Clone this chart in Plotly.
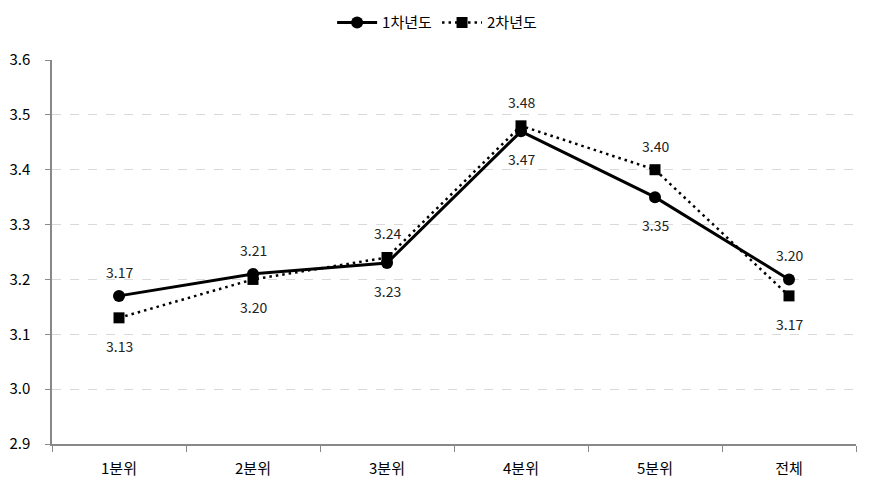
import plotly.graph_objects as go

categories = ["1분위", "2분위", "3분위", "4분위", "5분위", "전체"]
year1 = [3.17, 3.21, 3.23, 3.47, 3.35, 3.20]
year2 = [3.13, 3.20, 3.24, 3.48, 3.40, 3.17]
year1_above = [True, True, False, False, False, True]
year2_above = [False, False, True, True, True, False]
y_ticks = [2.9, 3.0, 3.1, 3.2, 3.3, 3.4, 3.5, 3.6]

FONT = "Noto Sans CJK KR, Malgun Gothic, sans-serif"

fig = go.Figure()
fig.add_trace(go.Scatter(
    x=categories, y=year1, name="1차년도", mode="lines+markers",
    line=dict(color="black", width=3),
    marker=dict(symbol="circle", size=12, color="black"),
))
fig.add_trace(go.Scatter(
    x=categories, y=year2, name="2차년도", mode="lines+markers",
    line=dict(color="black", width=2.5, dash="2.5px,4px"),
    marker=dict(symbol="square", size=11, color="black"),
))

annotations = []
for vals, above in ((year1, year1_above), (year2, year2_above)):
    for c, v, a in zip(categories, vals, above):
        annotations.append(dict(
            x=c, y=v, xref="x", yref="y", text=f"{v:.2f}", showarrow=False,
            yshift=24 if a else -28,
            font=dict(size=14, color="#222", family=FONT),
        ))

fig.update_layout(
    width=871, height=494,
    margin=dict(l=52, r=15, t=60, b=50, autoexpand=False),
    paper_bgcolor="white", plot_bgcolor="white",
    font=dict(family=FONT, size=15, color="black"),
    showlegend=True,
    annotations=annotations,
    legend=dict(orientation="h", x=0.479, xanchor="center", y=1.097, yanchor="middle",
                font=dict(size=15), itemwidth=40, traceorder="normal"),
    xaxis=dict(
        type="category", range=[-0.5, 5.5],
        showline=True, linecolor="#888", linewidth=1.5,
        ticks="outside", tickson="boundaries", ticklen=6, tickcolor="#888",
        showgrid=False, tickfont=dict(size=15), ticklabelstandoff=10,
    ),
    yaxis=dict(
        range=[2.9, 3.6], tickvals=y_ticks, ticktext=[f"{v:.1f}" for v in y_ticks],
        showline=True, linecolor="#888", linewidth=1.5,
        ticks="outside", ticklen=5, tickcolor="#888",
        showgrid=True, gridcolor="#d9d9d9", griddash="dash", gridwidth=1,
        zeroline=False, tickfont=dict(size=15), ticklabelstandoff=12,
    ),
)

fig.write_html("out.html")
